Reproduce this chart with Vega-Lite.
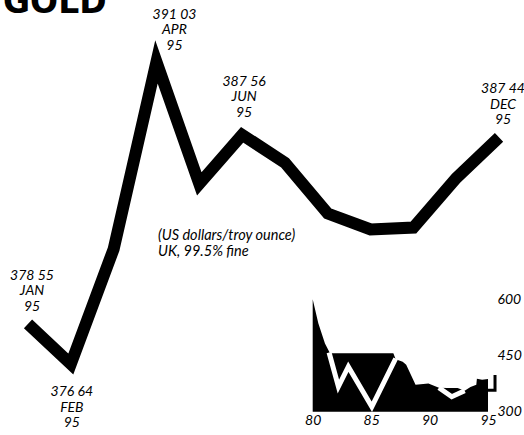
{
  "$schema": "https://vega.github.io/schema/vega-lite/v6.json",
  "width": 524,
  "height": 435,
  "padding": 0,
  "autosize": {"type": "none"},
  "background": "white",
  "config": {
    "view": {"stroke": null},
    "text": {"font": "Lato", "fontStyle": "italic", "fontSize": 14, "color": "black"}
  },
  "datasets": {
    "monthly": [
      {"month": 1, "price": 378.55, "label": "378 55\nJAN\n95"},
      {"month": 2, "price": 376.64, "label": "376 64\nFEB\n95"},
      {"month": 3, "price": 382.12, "label": ""},
      {"month": 4, "price": 391.03, "label": "391 03\nAPR\n95"},
      {"month": 5, "price": 385.22, "label": ""},
      {"month": 6, "price": 387.56, "label": "387 56\nJUN\n95"},
      {"month": 7, "price": 386.23, "label": ""},
      {"month": 8, "price": 383.81, "label": ""},
      {"month": 9, "price": 383.05, "label": ""},
      {"month": 10, "price": 383.14, "label": ""},
      {"month": 11, "price": 385.50, "label": ""},
      {"month": 12, "price": 387.44, "label": "387 44\nDEC\n95"}
    ],
    "notes": [
      {"kind": "title", "text": "GOLD"},
      {"kind": "unit", "text": "(US dollars/troy ounce)\nUK, 99.5% fine"}
    ],
    "history_area": [
      {"year": 80.0, "gold": 600},
      {"year": 80.48, "gold": 536},
      {"year": 81.05, "gold": 482},
      {"year": 81.48, "gold": 456},
      {"year": 86.9, "gold": 456},
      {"year": 87.1, "gold": 440},
      {"year": 87.7, "gold": 433},
      {"year": 88.0, "gold": 425},
      {"year": 88.8, "gold": 372},
      {"year": 89.9, "gold": 375},
      {"year": 90.8, "gold": 364},
      {"year": 91.5, "gold": 363},
      {"year": 92.4, "gold": 363},
      {"year": 93.0, "gold": 356},
      {"year": 93.5, "gold": 366},
      {"year": 94.0, "gold": 372},
      {"year": 94.05, "gold": 388},
      {"year": 94.5, "gold": 385},
      {"year": 95.0, "gold": 387}
    ],
    "history_line": [
      {"seg": "a", "year": 81.4, "gold": 458},
      {"seg": "a", "year": 82.2, "gold": 367},
      {"seg": "a", "year": 83.05, "gold": 420},
      {"seg": "a", "year": 85.06, "gold": 313},
      {"seg": "a", "year": 87.1, "gold": 442},
      {"seg": "b", "year": 90.8, "gold": 364},
      {"seg": "b", "year": 91.9, "gold": 340},
      {"seg": "b", "year": 93.0, "gold": 356}
    ],
    "history_tail": [
      {"year": 95.0, "gold": 357},
      {"year": 95.6, "gold": 357},
      {"year": 95.6, "gold": 398}
    ]
  },
  "layer": [
    {
      "layer": [
        {
          "data": {"name": "monthly"},
          "mark": {"type": "line", "color": "black", "strokeWidth": 12, "strokeJoin": "miter", "strokeCap": "butt", "strokeMiterLimit": 10},
          "encoding": {
            "x": {"field": "month", "type": "quantitative", "axis": null,
                  "scale": {"domain": [0.346, 12.583], "nice": false, "zero": false}},
            "y": {"field": "price", "type": "quantitative", "axis": null,
                  "scale": {"domain": [373.26, 393.98], "nice": false, "zero": false}}
          }
        },
        {
          "data": {"name": "monthly"},
          "transform": [{"filter": "datum.month == 1 || datum.month == 12"}],
          "mark": {"type": "text", "lineBreak": "\n", "lineHeight": 15.5, "baseline": "top", "align": "center", "dx": 4, "dy": -55},
          "encoding": {
            "x": {"field": "month", "type": "quantitative"},
            "y": {"field": "price", "type": "quantitative"},
            "text": {"field": "label"}
          }
        },
        {
          "data": {"name": "monthly"},
          "transform": [{"filter": "datum.month == 4"}],
          "mark": {"type": "text", "lineBreak": "\n", "lineHeight": 15.5, "baseline": "top", "align": "center", "dx": 18, "dy": -54},
          "encoding": {
            "x": {"field": "month", "type": "quantitative"},
            "y": {"field": "price", "type": "quantitative"},
            "text": {"field": "label"}
          }
        },
        {
          "data": {"name": "monthly"},
          "transform": [{"filter": "datum.month == 6"}],
          "mark": {"type": "text", "lineBreak": "\n", "lineHeight": 15.5, "baseline": "top", "align": "center", "dx": 2, "dy": -60},
          "encoding": {
            "x": {"field": "month", "type": "quantitative"},
            "y": {"field": "price", "type": "quantitative"},
            "text": {"field": "label"}
          }
        },
        {
          "data": {"name": "monthly"},
          "transform": [{"filter": "datum.month == 2"}],
          "mark": {"type": "text", "lineBreak": "\n", "lineHeight": 15.5, "baseline": "top", "align": "center", "dx": 1, "dy": 21},
          "encoding": {
            "x": {"field": "month", "type": "quantitative"},
            "y": {"field": "price", "type": "quantitative"},
            "text": {"field": "label"}
          }
        },
        {
          "data": {"name": "notes"},
          "transform": [{"filter": "datum.kind == 'unit'"}],
          "mark": {"type": "text", "lineBreak": "\n", "lineHeight": 16.5, "align": "left", "baseline": "top", "fontSize": 14.5},
          "encoding": {
            "x": {"datum": 4.036, "type": "quantitative"},
            "y": {"datum": 383.08, "type": "quantitative"},
            "text": {"field": "text"}
          }
        },
        {
          "data": {"name": "notes"},
          "transform": [{"filter": "datum.kind == 'title'"}],
          "mark": {"type": "text", "align": "left", "baseline": "alphabetic", "font": "DejaVu Sans", "fontStyle": "normal", "fontWeight": "bold", "fontSize": 33},
          "encoding": {
            "x": {"datum": 0.416, "type": "quantitative"},
            "y": {"datum": 393.38, "type": "quantitative"},
            "text": {"field": "text"}
          }
        }
      ]
    },
    {
      "encoding": {
        "x": {"field": "year", "type": "quantitative",
              "scale": {"domain": [53.244, 98.08], "nice": false, "zero": false},
              "axis": {"orient": "bottom", "values": [80, 85, 90, 95], "format": "d", "title": null,
                       "ticks": false, "domain": false, "grid": false, "offset": -22, "labelPadding": 0,
                       "labelFont": "Lato", "labelFontStyle": "italic", "labelFontSize": 14, "labelColor": "black"}},
        "y": {"field": "gold", "type": "quantitative",
              "scale": {"domain": [237.8, 1398.8], "nice": false, "zero": false},
              "axis": {"orient": "right", "values": [300, 450, 600], "title": null,
                       "ticks": false, "domain": false, "grid": false, "offset": -28, "labelPadding": 1,
                       "labelFont": "Lato", "labelFontStyle": "italic", "labelFontSize": 14, "labelColor": "black"}}
      },
      "layer": [
        {
          "data": {"name": "history_area"},
          "mark": {"type": "area", "color": "black"},
          "encoding": {"y2": {"datum": 300}}
        },
        {
          "data": {"name": "history_line"},
          "mark": {"type": "line", "color": "white", "strokeWidth": 5},
          "encoding": {"detail": {"field": "seg"}}
        },
        {
          "data": {"name": "history_tail"},
          "mark": {"type": "line", "color": "black", "strokeWidth": 3}
        }
      ]
    }
  ],
  "resolve": {"scale": {"x": "independent", "y": "independent"}}
}
